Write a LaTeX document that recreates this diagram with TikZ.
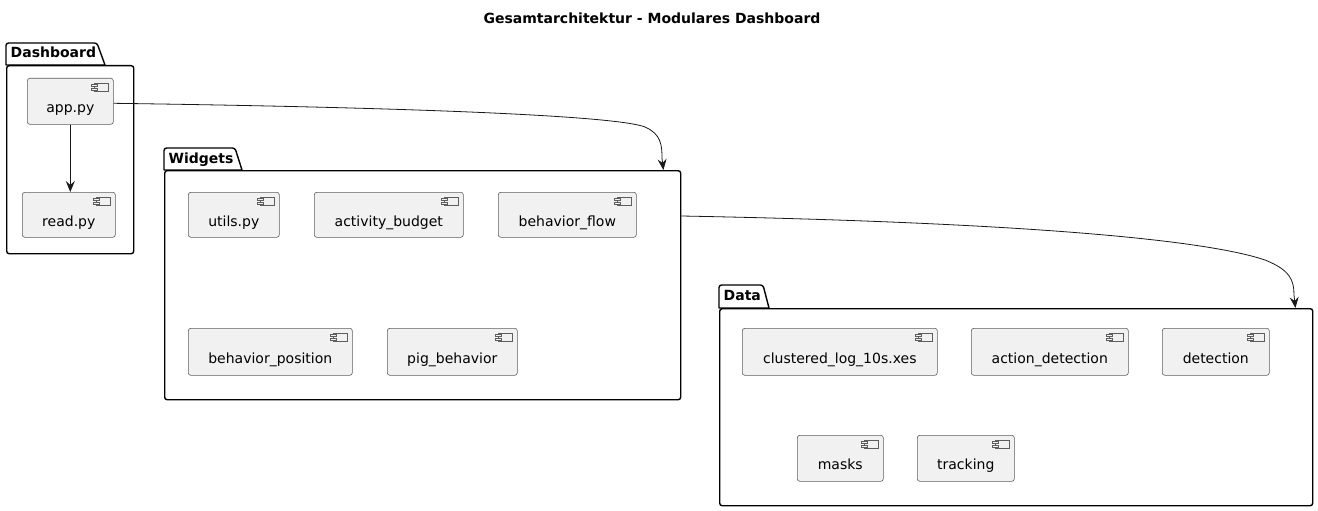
\documentclass[tikz,border=0pt]{standalone}
\usepackage{fontspec}
\setmainfont{DejaVu Sans}
\usetikzlibrary{arrows.meta}
\definecolor{compfill}{HTML}{F1F1F1}
\definecolor{compline}{HTML}{181818}
\tikzset{
  comp/.style={draw=compline!70, fill=compfill, line width=0.6pt, rounded corners=2.5pt,
    inner sep=0pt, text height=25pt, text depth=2pt, font=\fontsize{14}{16}\selectfont},
  icon/.style={draw=compline!70, fill=compfill, line width=0.6pt},
  pkgbody/.style={draw=black, line width=1.4pt, fill=white, rounded corners=2.5pt, inner sep=0pt},
  pkgtab/.style={draw=black, line width=1.4pt, fill=white, line join=round},
  pkglabel/.style={font=\bfseries\fontsize{14}{16}\selectfont, anchor=base west, inner sep=0pt},
  conn/.style={draw=black!90, line width=0.8pt, -{Stealth[length=11pt,width=9pt,inset=4pt]}}
}
% name, x1, y1, x2, y2, text
\newcommand\mycomp[6]{%
  \node[comp, anchor=north west, minimum width={#4pt-#2pt}, minimum height={#5pt-#3pt}] (#1) at (#2,#3) {\mbox{#6}\hspace{11pt}};
  \draw[icon] ([shift={(-19pt,-5pt)}]#1.north east) rectangle ++(14pt,-8pt);
  \draw[icon] ([shift={(-22pt,-6.5pt)}]#1.north east) rectangle ++(6pt,-2pt);
  \draw[icon] ([shift={(-22pt,-10pt)}]#1.north east) rectangle ++(6pt,-2pt);
}
% name, x1, ytabtop, xtabright, xslant, ybody, x2, y2, label
\newcommand\mypkg[9]{%
  \draw[pkgtab] (#2,#6) {[rounded corners=2.5pt] -- (#2,#3) -- (#4,#3)} -- (#5,#6) -- cycle;
  \node[pkgbody, anchor=north west, minimum width={#7pt-#2pt}, minimum height={#8pt-#6pt}] (#1) at (#2,#6) {};
  \node[pkglabel] (#1-label) at (#2+4.5,#3+15) {#9};
}
\begin{document}
\begin{tikzpicture}[x=1pt,y=-1pt]
\useasboundingbox (0,0) rectangle (1318,511);
\fill[white] (0,0) rectangle (1318,511);

\node[font=\bfseries\fontsize{14}{16}\selectfont, inner sep=0pt, anchor=base] (title) at (652,23.3) {Gesamtarchitektur - Modulares Dashboard};

\mypkg{dash}{6}{43}{97}{105}{65}{133}{253}{Dashboard}
\mypkg{widgets}{164}{148}{235}{242}{170}{680}{399}{Widgets}
\mypkg{data}{719}{285}{763}{769}{308}{1312}{505}{Data}

\mycomp{app}{27}{78}{113}{124}{app.py}
\mycomp{read}{22}{192}{115}{237}{read.py}

\mycomp{utils}{188}{192}{279}{237}{utils.py}
\mycomp{actbud}{314}{192}{463}{237}{activity\_budget}
\mycomp{bflow}{498}{192}{636}{237}{behavior\_flow}
\mycomp{bpos}{188}{328}{352}{375}{behavior\_position}
\mycomp{pig}{387}{328}{517}{375}{pig\_behavior}

\mycomp{clust}{742}{328}{937}{375}{clustered\_log\_10s.xes}
\mycomp{action}{971}{328}{1128}{375}{action\_detection}
\mycomp{det}{1162}{328}{1269}{375}{detection}
\mycomp{masks}{797}{435}{883}{481}{masks}
\mycomp{track}{917}{435}{1014}{481}{tracking}

\draw[conn] (app.south) -- (app.south |- read.north);
\draw[conn] ([yshift=-2pt]app.east) .. controls (450,108) and (620,117) .. (645,127)
  .. controls (661,134) and (662,145) .. (662,158) -- ([xshift=-18pt]widgets.north east);
\draw[conn] ([yshift=-46pt]widgets.north east) .. controls (1000,222) and (1200,238) .. (1265,260)
  .. controls (1290,270) and (1294,280) .. (1294,295) -- ([xshift=-18pt]data.north east);
\end{tikzpicture}
\end{document}
